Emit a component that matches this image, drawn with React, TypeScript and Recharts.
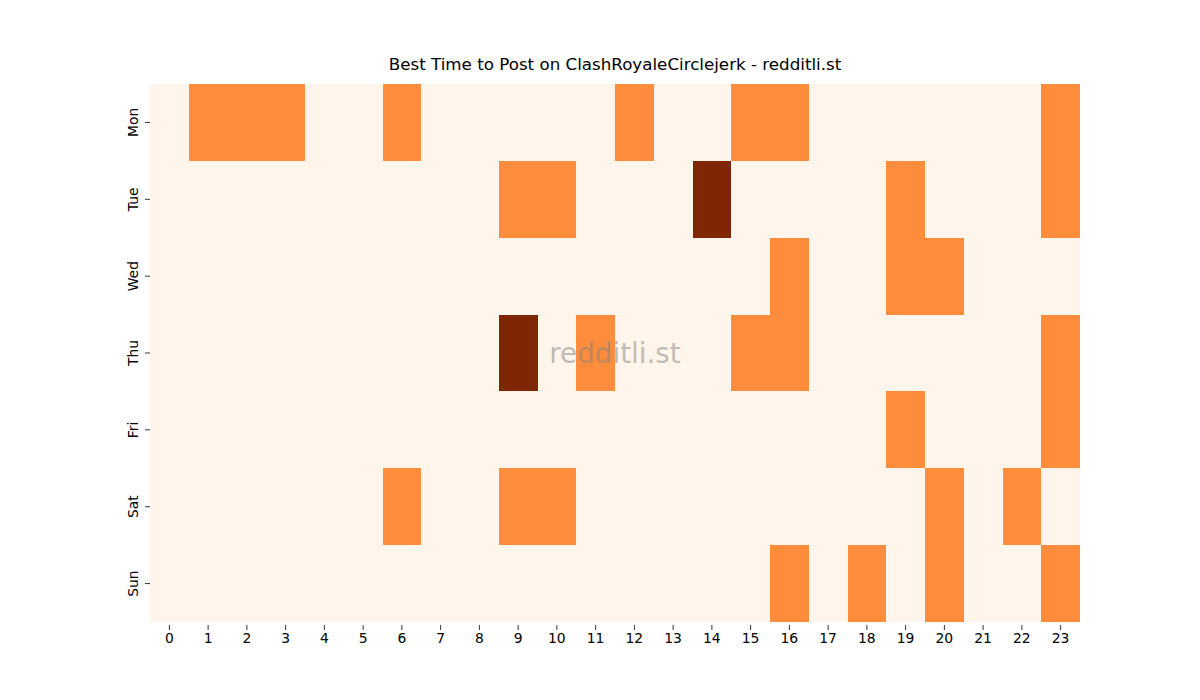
import React from "react";
import { BarChart, Bar, XAxis, YAxis, Cell } from "recharts";

const days = ["Mon", "Tue", "Wed", "Thu", "Fri", "Sat", "Sun"];
const hours = Array.from({ length: 24 }, (_, i) => i);

const mon = [0,1,1,1,0,0,1,0,0,0,0,0,1,0,0,1,1,0,0,0,0,0,0,1];
const tue = [0,0,0,0,0,0,0,0,0,1,1,0,0,0,2,0,0,0,0,1,0,0,0,1];
const wed = [0,0,0,0,0,0,0,0,0,0,0,0,0,0,0,0,1,0,0,1,1,0,0,0];
const thu = [0,0,0,0,0,0,0,0,0,2,0,1,0,0,0,1,1,0,0,0,0,0,0,1];
const fri = [0,0,0,0,0,0,0,0,0,0,0,0,0,0,0,0,0,0,0,1,0,0,0,1];
const sat = [0,0,0,0,0,0,1,0,0,1,1,0,0,0,0,0,0,0,0,0,1,0,1,0];
const sun = [0,0,0,0,0,0,0,0,0,0,0,0,0,0,0,0,1,0,1,0,1,0,0,1];

const values = [mon, tue, wed, thu, fri, sat, sun];
const colors = ["#fff5eb", "#fd8d3c", "#7f2704"];

const data = days.map((d) => {
  const row: any = { day: d };
  hours.forEach((h) => {
    row["h" + h] = 1;
  });
  return row;
});

const xTicks = hours.map((h) => h + 0.5);
const FONT = "DejaVu Sans, sans-serif";

const YTick = (props: any) => {
  const { x, y, payload } = props;
  return (
    <g>
      <line x1={x - 5} y1={y} x2={x} y2={y} stroke="#000" strokeWidth={0.8} />
      <text
        x={x - 17}
        y={y}
        transform={`rotate(-90, ${x - 17}, ${y})`}
        textAnchor="middle"
        dominantBaseline="central"
        fontFamily={FONT}
        fontSize={13.9}
        fill="#000"
      >
        {payload.value}
      </text>
    </g>
  );
};

const XTick = (props: any) => {
  const { x, y, payload } = props;
  return (
    <g>
      <line x1={x} y1={y - 5} x2={x} y2={y} stroke="#000" strokeWidth={0.8} />
      <text
        x={x}
        y={y + 3}
        textAnchor="middle"
        dominantBaseline="hanging"
        fontFamily={FONT}
        fontSize={13.9}
        fill="#000"
      >
        {Math.round(payload.value - 0.5)}
      </text>
    </g>
  );
};

export default function App() {
  return (
    <div style={{ position: "absolute", left: 0, top: 0, width: 1200, height: 700, background: "#fff" }}>
      <BarChart
        width={1200}
        height={700}
        data={data}
        layout="vertical"
        margin={{ top: 84, right: 120, bottom: 48, left: 100 }}
        barCategoryGap={0}
        barGap={0}
      >
        <XAxis
          type="number"
          domain={[0, 24]}
          ticks={xTicks}
          interval={0}
          axisLine={false}
          tickLine={false}
          tick={<XTick />}
          height={30}
          allowDataOverflow
        />
        <YAxis
          type="category"
          dataKey="day"
          axisLine={false}
          tickLine={false}
          tick={<YTick />}
          width={50}
          tickSize={0}
          tickMargin={0}
          interval={0}
        />
        {hours.map((h) => (
          <Bar key={h} dataKey={"h" + h} stackId="a" isAnimationActive={false} shapeRendering="crispEdges">
            {days.map((d, di) => (
              <Cell key={d} fill={colors[values[di][h]]} shapeRendering="crispEdges" />
            ))}
          </Bar>
        ))}
        <text x={615} y={70} textAnchor="middle" fontFamily={FONT} fontSize={16.7} fill="#000">
          Best Time to Post on ClashRoyaleCirclejerk - redditli.st
        </text>
      </BarChart>
      <svg
        width={1200}
        height={700}
        style={{ position: "absolute", left: 0, top: 0, pointerEvents: "none" }}
      >
        <text
          x={615}
          y={353}
          textAnchor="middle"
          dominantBaseline="central"
          fontFamily={FONT}
          fontSize={27.8}
          fill="#808080"
          fillOpacity={0.5}
        >
          redditli.st
        </text>
      </svg>
    </div>
  );
}
